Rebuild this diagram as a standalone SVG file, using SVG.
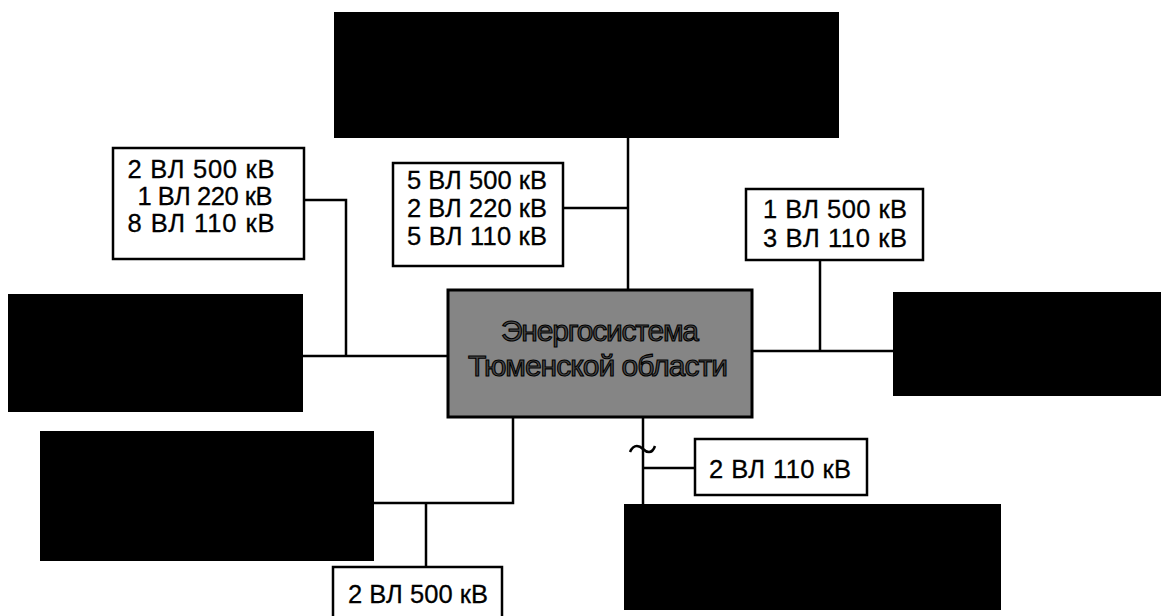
<svg xmlns="http://www.w3.org/2000/svg" width="1162" height="616" viewBox="0 0 1162 616">
<style>
.blk{fill:#000;stroke:#000;stroke-width:2}
.lbl{fill:#fff;stroke:#000;stroke-width:2.5}
.t{font-family:"Liberation Sans",Arial,sans-serif;font-size:25.5px;fill:#000;stroke:#000;stroke-width:0.3;text-anchor:middle}
.c{font-family:"Liberation Sans",Arial,sans-serif;font-size:30px;fill:#4a4a4a;stroke:#000;stroke-width:1.1;text-anchor:middle}
.ln{fill:none;stroke:#000;stroke-width:2.5}
</style>
<rect width="1162" height="616" fill="#fff"/>
<g id="connectors">
<path class="ln" d="M628,137V290"/>
<path class="ln" d="M563,208H628"/>
<path class="ln" d="M304,200H346V356"/>
<path class="ln" d="M302,356H448"/>
<path class="ln" d="M752,351H894"/>
<path class="ln" d="M820,260V351"/>
<path class="ln" d="M513,417V503H373"/>
<path class="ln" d="M426,503V567"/>
<path class="ln" d="M643,417V505"/>
<path class="ln" d="M643,468H695"/>
<path class="ln" d="M630,452C634,443 640,446 643,449C646,452 652,455 655,446"/>
</g>
<g id="node-top"><rect class="blk" x="335" y="13" width="503" height="124"/></g>
<g id="node-left"><rect class="blk" x="9" y="295" width="293" height="116"/></g>
<g id="node-right"><rect class="blk" x="894" y="293" width="266" height="102"/></g>
<g id="node-bottom-left"><rect class="blk" x="41" y="432" width="332" height="128"/></g>
<g id="node-bottom-right"><rect class="blk" x="625" y="505" width="375" height="104"/></g>
<g id="node-center">
<rect x="448" y="290" width="304" height="127" fill="#858585" stroke="#000" stroke-width="3"/>
<text class="c" x="600" y="341" textLength="198">Энергосистема</text>
<text class="c" x="598" y="376" textLength="260">Тюменской области</text>
</g>
<g id="label-left">
<rect class="lbl" x="113" y="148" width="191" height="111"/>
<text class="t" x="201" y="178" textLength="147">2 ВЛ 500 кВ</text>
<text class="t" x="205" y="205" textLength="135">1 ВЛ 220 кВ</text>
<text class="t" x="201" y="232" textLength="147">8 ВЛ 110 кВ</text>
</g>
<g id="label-mid">
<rect class="lbl" x="393" y="163" width="170" height="103"/>
<text class="t" x="477" y="189" textLength="140">5 ВЛ 500 кВ</text>
<text class="t" x="477" y="217" textLength="140">2 ВЛ 220 кВ</text>
<text class="t" x="477" y="245" textLength="140">5 ВЛ 110 кВ</text>
</g>
<g id="label-right">
<rect class="lbl" x="746" y="189" width="177" height="71"/>
<text class="t" x="835" y="218" textLength="144">1 ВЛ 500 кВ</text>
<text class="t" x="835" y="247" textLength="144">3 ВЛ 110 кВ</text>
</g>
<g id="label-bottom-right">
<rect class="lbl" x="695" y="439" width="172" height="56"/>
<text class="t" x="780" y="478" textLength="142">2 ВЛ 110 кВ</text>
</g>
<g id="label-bottom">
<rect class="lbl" x="333" y="567" width="169" height="53"/>
<text class="t" x="418" y="603" textLength="140">2 ВЛ 500 кВ</text>
</g>
</svg>
